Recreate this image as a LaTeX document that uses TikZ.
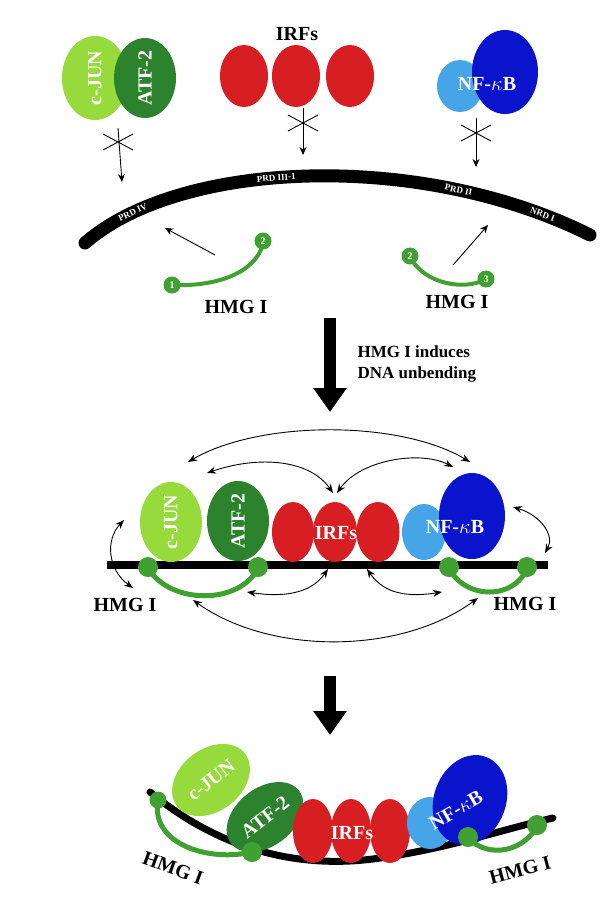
\documentclass[tikz,border=0pt]{standalone}
\usepackage{fontspec}
\setmainfont{Liberation Serif}
\usetikzlibrary{shapes.geometric,arrows.meta}
\definecolor{ljun}{RGB}{150,218,60}
\definecolor{datf}{RGB}{45,130,45}
\definecolor{irf}{RGB}{215,30,35}
\definecolor{lnf}{RGB}{70,165,230}
\definecolor{dnf}{RGB}{10,20,205}
\definecolor{hmg}{RGB}{65,160,50}
\tikzset{
 prot/.style={ellipse,inner sep=0pt,minimum width=#1},
 wlab/.style={text=white,font=\bfseries\fontsize{20}{20}\selectfont},
 blab/.style={font=\bfseries\fontsize{20}{20}\selectfont},
 dlab/.style={text=white,sloped,inner sep=0pt,font=\bfseries\fontsize{9}{9}\selectfont},
 nlab/.style={text=white,font=\bfseries\fontsize{10}{10}\selectfont},
 ball/.style={circle,fill=hmg,inner sep=0pt,minimum size=#1},
 ann/.style={-{Stealth[length=8pt,width=7pt]},line width=0.9pt},
 bi/.style={{Stealth[length=9pt,width=7pt]}-{Stealth[length=9pt,width=7pt]},line width=0.9pt},
 big/.style={-{Triangle[length=24pt,width=32pt]},line width=12pt},
 hmgl/.style={hmg,line width=4pt},
 dna/.style={line width=13pt,line cap=round}
}
\begin{document}
\begin{tikzpicture}[x=1pt,y=-1pt]
\useasboundingbox (0,0) rectangle (600,900);
% ---------- top ----------
\node[prot=66pt,minimum height=84pt,fill=ljun] (j1) at (95,78) {};
\node[prot=62pt,minimum height=80pt,fill=datf] (a1) at (145,78) {};
\node[wlab,rotate=90] at (j1) {c-JUN};
\node[wlab,rotate=90] at (a1) {ATF-2};
\node[prot=48pt,minimum height=62pt,fill=irf] (i1) at (244,76) {};
\node[prot=48pt,minimum height=62pt,fill=irf] (i2) at (296,76) {};
\node[prot=48pt,minimum height=62pt,fill=irf] (i3) at (350,76) {};
\node[blab] (irft) at (297,34) {IRFs};
\node[prot=46pt,minimum height=52pt,fill=lnf] (n1) at (460,86) {};
\node[prot=66pt,minimum height=84pt,fill=dnf] (n2) at (505,72) {};
\node[wlab] at (487,84) {NF-\(\kappa\)B};
% DNA arc
\draw[dna] (85,243) .. controls (180,160) and (420,150) .. (590,235)
  node[dlab,pos=0.14] {PRD IV}
  node[dlab,pos=0.44] {PRD III-1}
  node[dlab,pos=0.76] {PRD II}
  node[dlab,pos=0.91] {NRD I};
% blocked arrows
\coordinate (s1) at (118,128); \coordinate (e1) at (122,182);
\coordinate (s2) at (303,108); \coordinate (e2) at (303,155);
\coordinate (s3) at (476,118); \coordinate (e3) at (476,167);
\foreach \s/\e in {s1/e1,s2/e2,s3/e3}{\draw[ann] (\s) -- (\e);}
\foreach \cx/\cy in {118/142,303/123,476/133}{
 \draw[line width=0.9pt] (\cx-15,\cy-8) -- (\cx+15,\cy+8) (\cx-15,\cy+8) -- (\cx+15,\cy-8);}
% HMG left
\draw[hmgl] (172,285) .. controls (225,287) and (258,268) .. (263,243);
\node[ball=17pt] (h1) at (172,285) {}; \node[nlab] at (h1) {1};
\node[ball=17pt] (h2) at (263,241) {}; \node[nlab] at (h2) {2};
\coordinate (al1) at (215,255); \coordinate (al2) at (165,228);
\draw[ann] (al1) -- (al2);
\node[blab] (hl) at (236,307) {HMG I};
% HMG right
\draw[hmgl] (410,257) .. controls (425,285) and (465,290) .. (484,280);
\node[ball=17pt] (h3) at (410,256) {}; \node[nlab] at (h3) {2};
\node[ball=17pt] (h4) at (486,279) {}; \node[nlab] at (h4) {3};
\coordinate (ar1) at (453,265); \coordinate (ar2) at (488,225);
\draw[ann] (ar1) -- (ar2);
\node[blab] (hr) at (457,302) {HMG I};
% big arrow 1
\coordinate (b1s) at (330,318); \coordinate (b1e) at (330,412);
\draw[big] (b1s) -- (b1e);
\node[blab,align=left,anchor=west,font=\bfseries\fontsize{17}{21}\selectfont] (ind) at (354,364) {HMG I induces\\DNA unbending};
% ---------- middle ----------
\draw[line width=8pt] (107,565) -- (548,565);
\node[prot=62pt,minimum height=80pt,fill=ljun] (j2) at (171,522) {};
\node[prot=62pt,minimum height=80pt,fill=datf] (a2) at (238,521) {};
\node[wlab,rotate=90] at (j2) {c-JUN};
\node[wlab,rotate=90] at (a2) {ATF-2};
\node[prot=42pt,minimum height=60pt,fill=irf] (i4) at (293,532) {};
\node[prot=44pt,minimum height=60pt,fill=irf] (i5) at (335,532) {};
\node[prot=43pt,minimum height=60pt,fill=irf] (i6) at (378,532) {};
\node[wlab] at (336,533) {IRFs};
\node[prot=44pt,minimum height=56pt,fill=lnf] (n3) at (424,532) {};
\node[prot=66pt,minimum height=86pt,fill=dnf] (n4) at (472,516) {};
\node[wlab] at (455,527) {NF-\(\kappa\)B};
\draw[hmgl,line width=5pt] (148,568) .. controls (170,605) and (240,605) .. (258,568);
\node[ball=20pt] (m1) at (148,567) {}; \node[ball=20pt] (m2) at (258,567) {};
\draw[hmgl,line width=5pt] (449,568) .. controls (465,600) and (515,600) .. (527,568);
\node[ball=20pt] (m3) at (449,567) {}; \node[ball=20pt] (m4) at (527,567) {};
\node[blab] at (125,605) {HMG I};
\node[blab] at (525,604) {HMG I};
% interaction arrows
\coordinate (t1) at (188,462); \coordinate (t2) at (470,462);
\draw[bi] (t1) .. controls (260,420) and (400,420) .. (t2);
\coordinate (u1) at (207,473); \coordinate (u2) at (333,493);
\draw[bi] (u1) .. controls (260,455) and (310,460) .. (u2);
\coordinate (u3) at (337,493); \coordinate (u4) at (453,467);
\draw[bi] (u3) .. controls (360,460) and (420,450) .. (u4);
\coordinate (l1) at (124,520); \coordinate (l2) at (133,588);
\draw[bi] (l1) .. controls (105,540) and (108,570) .. (l2);
\coordinate (r1) at (513,507); \coordinate (r2) at (545,553);
\draw[bi] (r1) .. controls (540,515) and (555,535) .. (r2);
\coordinate (d1) at (328,569); \coordinate (d2) at (247,592);
\draw[bi] (d1) .. controls (310,595) and (280,597) .. (d2);
\coordinate (d3) at (367,569); \coordinate (d4) at (442,592);
\draw[bi] (d3) .. controls (385,595) and (410,597) .. (d4);
\coordinate (g1) at (193,600); \coordinate (g2) at (478,598);
\draw[bi] (g1) .. controls (270,655) and (400,655) .. (g2);
% big arrow 2
\coordinate (b2s) at (330,676); \coordinate (b2e) at (330,735);
\draw[big] (b2s) -- (b2e);
% ---------- bottom ----------
\draw[line width=7pt,line cap=round] (150,792) .. controls (220,850) and (300,870) .. (380,858) .. controls (450,848) and (500,830) .. (553,818);
\node[prot=62pt,minimum height=86pt,fill=ljun,rotate=-52] (j3) at (211,780) {};
\node[wlab,rotate=38] at (j3) {c-JUN};
\node[prot=58pt,minimum height=86pt,fill=datf,rotate=-52] (a3) at (265,817) {};
\node[wlab,rotate=38] at (a3) {ATF-2};
\node[prot=40pt,minimum height=64pt,fill=irf] (i7) at (313,831) {};
\node[prot=40pt,minimum height=64pt,fill=irf] (i8) at (351,831) {};
\node[prot=40pt,minimum height=64pt,fill=irf] (i9) at (390,831) {};
\node[wlab] at (352,833) {IRFs};
\node[prot=46pt,minimum height=52pt,fill=lnf] (n5) at (430,823) {};
\node[prot=72pt,minimum height=92pt,fill=dnf,rotate=-20] (n6) at (470,800) {};
\node[wlab,rotate=30] at (456,810) {NF-\(\kappa\)B};
\draw[hmgl,line width=5pt] (158,800) .. controls (150,845) and (210,862) .. (252,852);
\node[ball=17pt] (k1) at (158,800) {}; \node[ball=20pt] (k2) at (252,852) {};
\draw[hmgl,line width=5pt] (468,838) .. controls (490,860) and (525,850) .. (537,826);
\node[ball=20pt] (k3) at (468,837) {}; \node[ball=20pt] (k4) at (537,825) {};
\node[blab,rotate=-20] at (173,868) {HMG I};
\node[blab,rotate=15] at (520,870) {HMG I};
\end{tikzpicture}
\end{document}
